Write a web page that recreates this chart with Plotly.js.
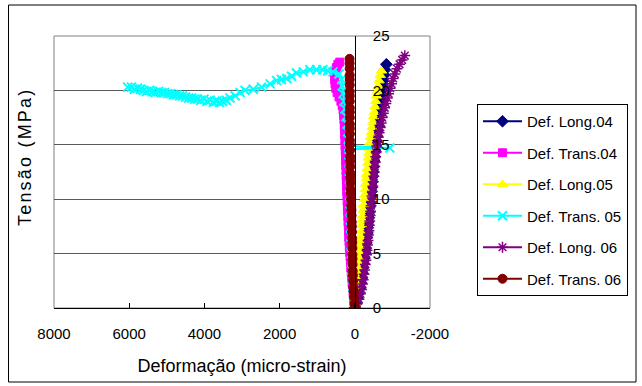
<!DOCTYPE html>
<html>
<head>
<meta charset="utf-8">
<script src="https://cdn.plot.ly/plotly-3.0.1.min.js"></script>
<style>
  html, body { margin: 0; padding: 0; background: #fff; }
  #chart { width: 642px; height: 386px; }
  .annotation-text { letter-spacing: 2.2px; }
</style>
</head>
<body>
<div id="chart"></div>
<script>
// Stress (MPa) versus strain (micro-strain) for specimens 04, 05 and 06.
const seriesNames = [
  'Def. Long.04', 'Def. Trans.04', 'Def. Long.05',
  'Def. Trans. 05', 'Def. Long. 06', 'Def. Trans. 06'
];

const long04X = [0,-35,-70,-100,-130,-155,-175,-195,-215,-235,-255,-275,-290,-305,-320,-335,-345,-360,-372,-385,-398,-410,-425,-440,-452,-466,-480,-492,-505,-518,-532,-546,-560,-572,-585,-600,-615,-628,-642,-658,-672,-690,-705,-722,-740,-760,-780,-805,-840];
const long04Y = [0,0.4,0.9,1.3,1.8,2.3,2.7,3.2,3.7,4.1,4.6,5.1,5.5,6.0,6.5,6.9,7.4,7.9,8.3,8.8,9.3,9.7,10.2,10.7,11.1,11.6,12.1,12.5,13.0,13.5,13.9,14.4,14.9,15.3,15.8,16.3,16.7,17.2,17.7,18.1,18.6,19.1,19.5,20.0,20.5,20.9,21.4,21.9,22.4];

const trans04X = [0,15,30,45,58,70,82,95,105,115,125,135,145,152,160,166,172,178,184,190,196,202,208,213,218,223,228,233,238,243,248,253,258,263,268,274,280,288,298,312,335,370,420,470,505,525,535,530,515,490,450,400];
const trans04Y = [0,0.5,0.9,1.4,1.9,2.3,2.8,3.3,3.7,4.2,4.7,5.1,5.6,6.1,6.5,7.0,7.5,7.9,8.4,8.9,9.3,9.8,10.3,10.7,11.2,11.7,12.1,12.6,13.1,13.5,14.0,14.5,14.9,15.4,15.9,16.3,16.8,17.3,17.7,18.2,18.6,19.0,19.4,19.8,20.2,20.6,21.0,21.4,21.8,22.1,22.4,22.6];

const long05X = [0,-10,-22,-35,-48,-58,-68,-80,-92,-105,-115,-128,-140,-152,-163,-175,-186,-198,-210,-222,-236,-250,-262,-276,-290,-303,-315,-330,-343,-357,-370,-385,-400,-418,-438,-458,-478,-500,-518,-536,-555,-575,-598,-620,-645,-675,-710];
const long05Y = [0,0.5,0.9,1.4,1.9,2.4,2.8,3.3,3.8,4.3,4.7,5.2,5.7,6.2,6.6,7.1,7.6,8.1,8.5,9.0,9.5,10.0,10.4,10.9,11.4,11.9,12.3,12.8,13.3,13.8,14.2,14.7,15.2,15.7,16.1,16.6,17.1,17.6,18.0,18.5,19.0,19.5,19.9,20.4,20.9,21.4,21.8];

const trans05X = [0,20,40,55,65,75,82,88,95,100,106,112,118,123,128,133,138,142,147,150,155,-930,160,170,185,205,230,260,290,315,335,350,420,580,720,850,1020,1195,1370,1550,1680,1810,1950,2080,2250,2480,2700,2920,3050,3180,3320,3420,3520,3600,3680,3760,3850,3930,4010,4100,4180,4260,4340,4420,4500,4580,4660,4740,4820,4900,4980,5060,5140,5220,5300,5380,5460,5540,5620,5700,5780,5860,5940,6040];
const trans05Y = [0,0.6,1.3,2.0,2.8,3.5,4.3,5.0,5.8,6.6,7.4,8.1,8.9,9.6,10.4,11.1,11.9,12.6,13.4,14.1,14.6,14.7,14.9,15.5,16.2,16.9,17.6,18.3,19.0,19.7,20.4,21.0,21.5,21.7,21.8,21.9,21.9,21.9,21.7,21.6,21.3,21.1,21.0,20.9,20.6,20.3,20.1,20.0,19.8,19.5,19.3,19.1,19.0,18.9,19.0,18.9,19.1,19.0,19.2,19.1,19.2,19.2,19.3,19.3,19.4,19.5,19.5,19.6,19.6,19.7,19.7,19.8,19.8,19.9,19.8,19.9,20.0,19.9,20.0,20.1,20.2,20.1,20.3,20.3];

const long06X = [0,-60,-110,-150,-180,-205,-225,-245,-262,-280,-296,-312,-326,-340,-352,-364,-376,-388,-398,-410,-420,-432,-444,-456,-468,-480,-492,-505,-518,-530,-542,-555,-568,-584,-600,-625,-650,-678,-705,-732,-760,-795,-828,-865,-900,-940,-978,-1020,-1065,-1120,-1190,-1260,-1330];
const long06Y = [0,0.4,0.8,1.3,1.7,2.2,2.6,3.1,3.5,4.0,4.4,4.9,5.3,5.8,6.2,6.7,7.1,7.6,8.0,8.5,8.9,9.4,9.8,10.3,10.7,11.2,11.6,12.1,12.5,13.0,13.4,13.9,14.3,14.8,15.2,15.7,16.1,16.6,17.0,17.5,17.9,18.4,18.8,19.3,19.7,20.2,20.6,21.1,21.5,22.0,22.4,22.8,23.2];

const trans06X = [0,10,20,30,38,45,50,55,58,60,62,64,66,70,74,78,82,86,90,95,100,104,108,112,116,118,120,122,124,126,128,130,130,131,132,132,133,133,134,134,135,135,136,136,137,138,140];
const trans06Y = [0,0.4,1.0,1.5,1.9,2.5,3.0,3.4,4.0,4.5,4.9,5.5,6.0,6.4,7.0,7.5,7.9,8.5,9.0,9.4,10.0,10.5,10.9,11.5,12.0,12.4,13.0,13.5,13.9,14.5,15.0,15.4,16.0,16.5,16.9,17.5,18.0,18.4,19.0,19.5,19.9,20.5,21.0,21.4,22.0,22.5,22.9];

const xTickVals = [8000, 6000, 4000, 2000, 0, -2000];
const yTickVals = [0, 5, 10, 15, 20, 25];

const FONT = 'Liberation Sans, Arial, sans-serif';

function series(name, x, y, color, symbol, size, lineWidth) {
  return {
    type: 'scatter', mode: 'lines+markers', name: name, legendgroup: name,
    x: x, y: y,
    line: { color: color, width: 2 },
    marker: { color: color, symbol: symbol, size: size, line: { color: color, width: lineWidth } }
  };
}

const traces = [
  series(seriesNames[0], long04X, long04Y, '#000080', 'diamond', 9, 1),
  series(seriesNames[1], trans04X, trans04Y, '#FF00FF', 'square', 8, 1),
  series(seriesNames[2], long05X, long05Y, '#FFFF00', 'triangle-up', 9, 1),
  series(seriesNames[3], trans05X, trans05Y, '#00FFFF', 'x-thin-open', 9, 2),
  series(seriesNames[4], long06X, long06Y, '#800080', 'asterisk-open', 9, 1.5),
  series(seriesNames[5], trans06X, trans06Y, '#800000', 'circle', 9, 1)
];

const layout = {
  width: 642, height: 386,
  margin: { l: 54, r: 212, t: 36, b: 78, pad: 0 },
  paper_bgcolor: '#ffffff', plot_bgcolor: '#ffffff',
  font: { family: FONT, size: 15, color: '#000' },
  showlegend: true,
  legend: {
    x: 1.125, y: 0.75, xanchor: 'left', yanchor: 'top',
    bgcolor: '#ffffff', bordercolor: '#000000', borderwidth: 1,
    font: { family: FONT, size: 15, color: '#000' },
    traceorder: 'grouped', tracegroupgap: 9, itemwidth: 39
  },
  xaxis: {
    range: [8000, -2000], tickvals: xTickVals, ticktext: xTickVals.map(String),
    showgrid: false, zeroline: false,
    showline: true, linecolor: '#000', linewidth: 1,
    ticks: 'inside', ticklen: 5, tickcolor: '#000',
    ticklabelstandoff: 12,
    tickfont: { family: FONT, size: 15, color: '#000' },
    title: { text: 'Deformação (micro-strain)', font: { family: FONT, size: 18, color: '#000' }, standoff: 18 },
    automargin: false, fixedrange: true
  },
  yaxis: {
    range: [0, 25], tickvals: yTickVals,
    anchor: 'free', position: 0.8, side: 'right',
    showgrid: true, gridcolor: '#5a5a5a', gridwidth: 1, zeroline: false,
    showline: true, linecolor: '#000', linewidth: 1,
    ticks: '', ticklabelstandoff: 14,
    tickfont: { family: FONT, size: 15, color: '#000' },
    automargin: false, fixedrange: true
  },
  annotations: [{
    text: 'Tensão (MPa)', textangle: -90,
    xref: 'paper', yref: 'paper',
    x: (25 - 54) / 376, y: (308 - 157) / 272,
    xanchor: 'center', yanchor: 'middle', showarrow: false,
    font: { family: FONT, size: 18, color: '#000' }
  }],
  shapes: [
    // plot-area frame
    { type: 'rect', xref: 'paper', yref: 'paper', x0: 0, x1: 1, y0: 0, y1: 1,
      line: { color: '#808080', width: 1 }, layer: 'below' },
    // chart-area frame
    { type: 'rect', xref: 'paper', yref: 'paper',
      x0: (8.5 - 54) / 376, x1: (636 - 54) / 376,
      y0: (308 - 382) / 272, y1: (308 - 5) / 272,
      line: { color: '#000000', width: 1 } }
  ]
};

Plotly.newPlot('chart', traces, layout, { staticPlot: true, displayModeBar: false });
</script>
</body>
</html>
